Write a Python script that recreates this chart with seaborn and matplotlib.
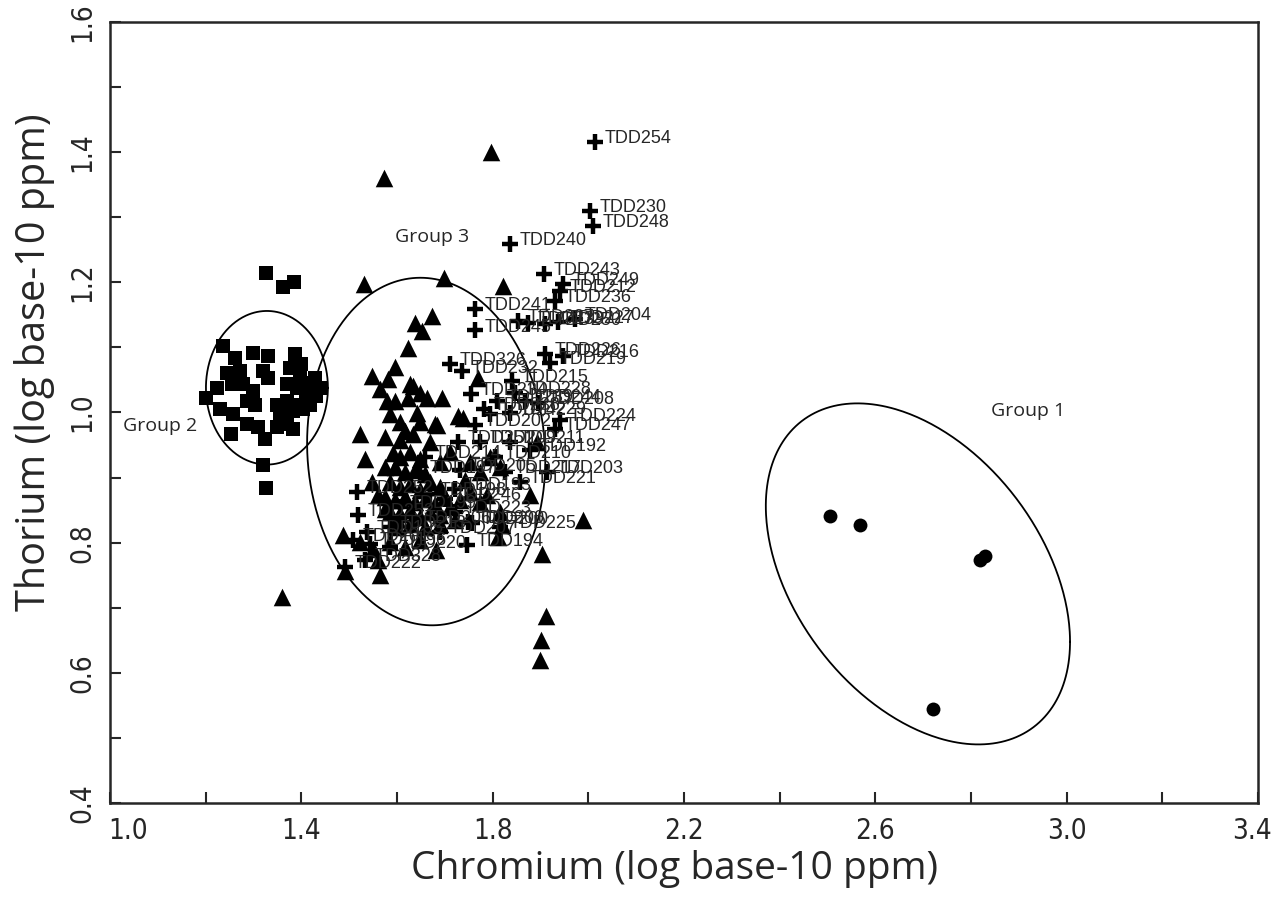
import numpy as np
import pandas as pd
import matplotlib
matplotlib.use("Agg")
import matplotlib.pyplot as plt
import matplotlib.transforms as mtransforms
import seaborn as sns
from matplotlib import font_manager

# ---------------- data ----------------
group1_cr = [2.505, 2.568, 2.819, 2.829, 2.721]
group1_th = [0.841, 0.827, 0.773, 0.779, 0.545]

group2_cr = [1.326, 1.362, 1.385,
             1.236, 1.261, 1.299, 1.330, 1.387,
             1.245, 1.272, 1.320, 1.330, 1.376, 1.397, 1.429,
             1.224, 1.255, 1.278, 1.299, 1.370, 1.391, 1.412,
             1.201, 1.230, 1.257, 1.286, 1.303, 1.349, 1.370, 1.397, 1.418, 1.439,
             1.355, 1.383, 1.404,
             1.286, 1.309, 1.349, 1.370,
             1.253, 1.383, 1.324, 1.320, 1.326,
             1.420, 1.400, 1.410, 1.430]
group2_th = [1.215, 1.193, 1.201,
             1.102, 1.083, 1.091, 1.087, 1.090,
             1.060, 1.063, 1.063, 1.053, 1.068, 1.059, 1.053,
             1.037, 1.043, 1.043, 1.033, 1.043, 1.037, 1.033,
             1.022, 1.006, 0.998, 1.017, 1.012, 1.012, 1.017, 1.012, 1.012, 1.037,
             0.997, 1.002, 1.006,
             0.983, 0.978, 0.978, 0.983,
             0.967, 0.974, 0.960, 0.920, 0.884,
             1.045, 1.075, 1.020, 1.025]

group3_cr = [1.797, 1.573, 1.698, 1.531, 1.822, 1.673, 1.638, 1.652, 1.623, 1.596,
             1.548, 1.581, 1.564, 1.627, 1.648, 1.579, 1.596, 1.623, 1.663, 1.694,
             1.633, 1.585, 1.606, 1.642, 1.648, 1.679, 1.728, 1.738, 1.684, 1.769,
             1.523, 1.575, 1.606, 1.633, 1.533, 1.592, 1.627, 1.648,
             1.596, 1.617, 1.638, 1.659, 1.585, 1.606, 1.627, 1.648, 1.669, 1.690,
             1.575, 1.596, 1.617, 1.638, 1.659, 1.679, 1.700, 1.585, 1.606, 1.627,
             1.648, 1.669, 1.690, 1.711, 1.732, 1.753, 1.774, 1.600, 1.627, 1.659,
             1.690, 1.721, 1.548, 1.560, 1.575, 1.600, 1.711, 1.753, 1.774, 1.794,
             1.815, 1.742, 1.606, 1.669, 1.690, 1.617, 1.575,
             1.487, 1.550, 1.560, 1.564, 1.491, 1.523, 1.585, 1.617, 1.648, 1.682,
             1.815, 1.820, 1.811, 1.788, 1.878, 1.989, 1.893, 1.903, 1.912, 1.901,
             1.899, 1.360]
group3_th = [1.400, 1.360, 1.207, 1.198, 1.195, 1.148, 1.137, 1.125, 1.099, 1.070,
             1.056, 1.051, 1.036, 1.044, 1.030, 1.017, 1.017, 1.022, 1.022, 1.022,
             1.041, 0.997, 0.986, 0.999, 0.986, 0.983, 0.994, 0.991, 0.981, 1.053,
             0.967, 0.963, 0.958, 0.967, 0.929, 0.937, 0.940, 0.929,
             0.917, 0.909, 0.912, 0.906, 0.893, 0.886, 0.890, 0.881, 0.893, 0.886,
             0.870, 0.866, 0.870, 0.863, 0.867, 0.859, 0.870, 0.847, 0.844, 0.850,
             0.839, 0.847, 0.842, 0.855, 0.866, 0.878, 0.863, 0.824, 0.829, 0.824,
             0.829, 0.835, 0.893, 0.873, 0.852, 0.836, 0.940, 0.924, 0.909, 0.932,
             0.917, 0.897, 0.932, 0.955, 0.924, 0.971, 0.917,
             0.812, 0.790, 0.774, 0.750, 0.757, 0.801, 0.801, 0.793, 0.804, 0.788,
             0.847, 0.827, 0.809, 0.873, 0.873, 0.835, 0.955, 0.782, 0.688, 0.651,
             0.619, 0.717]

tdd_labels = ["TDD254", "TDD230", "TDD248", "TDD240", "TDD243", "TDD249", "TDD212",
              "TDD236", "TDD241", "TDD245", "TDD237", "TDD233", "TDD250", "TDD227",
              "TDD204", "TDD226", "TDD216", "TDD219", "TDD326", "TDD232", "TDD215",
              "TDD228", "TDD208", "TDD229", "TDD202", "TDD224", "TDD247", "TDD251",
              "TDD192", "TDD203", "TDD205", "TDD193", "TDD246", "TDD200", "TDD200",
              "TDD194", "TDD220", "TDD328", "TDD222", "TDD234", "TDD238", "TDD239",
              "TDD242", "TDD244", "TDD252", "TDD253", "TDD201", "TDD195", "TDD196",
              "TDD197", "TDD198", "TDD199", "TDD206", "TDD207", "TDD209", "TDD210",
              "TDD211", "TDD213", "TDD214", "TDD217", "TDD221", "TDD223", "TDD225"]
tdd_cr = [2.014, 2.004, 2.010, 1.836, 1.907, 1.947, 1.941, 1.930, 1.763, 1.763,
          1.853, 1.874, 1.909, 1.937, 1.972, 1.909, 1.947, 1.920, 1.711, 1.736,
          1.840, 1.847, 1.895, 1.836, 1.763, 1.941, 1.930, 1.728, 1.878, 1.914,
          1.732, 1.721, 1.700, 1.748, 1.757, 1.746, 1.585, 1.533, 1.491, 1.755,
          1.782, 1.809, 1.794, 1.868, 1.516, 1.518, 1.508, 1.537, 1.544, 1.648,
          1.669, 1.606, 1.638, 1.690, 1.774, 1.805, 1.836, 1.585, 1.659, 1.826,
          1.857, 1.721, 1.815]
tdd_th = [1.415, 1.309, 1.286, 1.259, 1.213, 1.198, 1.187, 1.171, 1.159, 1.126,
          1.140, 1.137, 1.136, 1.139, 1.144, 1.090, 1.087, 1.076, 1.074, 1.063,
          1.048, 1.030, 1.014, 0.999, 0.981, 0.989, 0.974, 0.955, 0.943, 0.909,
          0.912, 0.883, 0.867, 0.832, 0.830, 0.796, 0.793, 0.773, 0.762, 1.028,
          1.005, 1.017, 0.997, 1.017, 0.878, 0.842, 0.804, 0.816, 0.798, 0.909,
          0.875, 0.855, 0.832, 0.816, 0.955, 0.932, 0.955, 0.824, 0.932, 0.909,
          0.893, 0.847, 0.824]

# ellipses: centre x, centre y, half-width, half-height, phase
ellipse_names = ["Group 1", "Group 2", "Group 3"]
ellipse_cx = [2.689, 1.328, 1.661]
ellipse_cy = [0.752, 1.038, 0.940]
ellipse_a = [0.318, 0.1275, 0.249]
ellipse_b = [0.262, 0.118, 0.267]
ellipse_phi = [1.98, np.pi / 2, 1.62]
label_x = [2.919, 1.105, 1.673]
label_y = [1.003, 0.980, 1.270]

x_ticks_major = [1.0, 1.4, 1.8, 2.2, 2.6, 3.0, 3.4]
y_ticks_major = [0.4, 0.6, 0.8, 1.0, 1.2, 1.4, 1.6]

# ---------------- style ----------------
sns.set_style("ticks")
avail = {f.name for f in font_manager.fontManager.ttflist}
narrow = "Liberation Sans Narrow" if "Liberation Sans Narrow" in avail else "DejaVu Sans"
plt.rcParams['font.family'] = ['Open Sans', 'DejaVu Sans']

fig = plt.figure(figsize=(12.72, 8.97), dpi=100)
ax = fig.add_axes([0.0865, 0.1048, 0.9025, 0.8707])

df1 = pd.DataFrame({"cr": group1_cr, "th": group1_th})
df2 = pd.DataFrame({"cr": group2_cr, "th": group2_th})
df3 = pd.DataFrame({"cr": group3_cr, "th": group3_th})
dft = pd.DataFrame({"cr": tdd_cr, "th": tdd_th, "lab": tdd_labels})

sns.scatterplot(data=df2, x="cr", y="th", marker="s", s=105, color="black",
                edgecolor="black", linewidth=0, ax=ax, zorder=3)
sns.scatterplot(data=df3, x="cr", y="th", marker="^", s=160, color="black",
                edgecolor="black", linewidth=0, ax=ax, zorder=3)
sns.scatterplot(data=df1, x="cr", y="th", marker="o", s=100, color="black",
                edgecolor="black", linewidth=0, ax=ax, zorder=3)
ax.scatter(dft["cr"], dft["th"], marker="+", s=130, color="black",
           linewidths=3.2, zorder=4)
for x, y, t in zip(dft["cr"], dft["th"], dft["lab"]):
    ax.annotate(t, (x, y), xytext=(7, 2.5), textcoords="offset points",
                fontsize=13, family=["Liberation Sans", "DejaVu Sans"],
                va="center", ha="left", zorder=5)

tt = np.linspace(0, 2 * np.pi, 400)
for cx, cy, a, b, phi, nm, lx, ly in zip(ellipse_cx, ellipse_cy, ellipse_a,
                                         ellipse_b, ellipse_phi, ellipse_names,
                                         label_x, label_y):
    ax.plot(cx + a * np.cos(tt), cy + b * np.cos(tt - phi), color="black",
            lw=1.3, zorder=2)
    ax.text(lx, ly, nm, fontsize=14, ha="center", va="center")

ax.set_xlim(1.0, 3.4)
ax.set_ylim(0.4, 1.6)
xt = np.arange(1.0, 3.41, 0.2)
ax.set_xticks(xt)
ax.set_xticklabels([f"{v:.1f}" if any(abs(v - m) < 1e-6 for m in x_ticks_major) else ""
                    for v in xt])
yt = np.arange(0.4, 1.61, 0.1)
ax.set_yticks(yt)
ax.set_yticklabels([f"{v:.1f}" if any(abs(v - m) < 1e-6 for m in y_ticks_major) else ""
                    for v in yt])
ax.tick_params(direction="in", length=8, width=1.5, pad=10, labelsize=20,
               top=False, right=False)
for lab in ax.get_xticklabels() + ax.get_yticklabels():
    lab.set_family([narrow, "DejaVu Sans"])
    lab.set_fontstretch("condensed")
for lab in ax.get_yticklabels():
    lab.set_rotation(90)
    lab.set_va("center")

# nudge the end x tick labels inward as in the reference
xlabs = ax.get_xticklabels()
xlabs[0].set_transform(xlabs[0].get_transform() +
                       mtransforms.ScaledTranslation(18 / 100, 0, fig.dpi_scale_trans))
xlabs[-1].set_transform(xlabs[-1].get_transform() +
                        mtransforms.ScaledTranslation(-6 / 100, 0, fig.dpi_scale_trans))

for sp in ax.spines.values():
    sp.set_visible(True)
    sp.set_linewidth(1.8)

ax.set_xlabel("Chromium (log base-10 ppm)", fontsize=28)
ax.set_ylabel("Thorium (log base-10 ppm)", fontsize=28.5)
ax.xaxis.set_label_coords(0.492, -0.060)
ax.yaxis.set_label_coords(-0.048, 0.565)

fig.savefig("out.png", dpi=100)
